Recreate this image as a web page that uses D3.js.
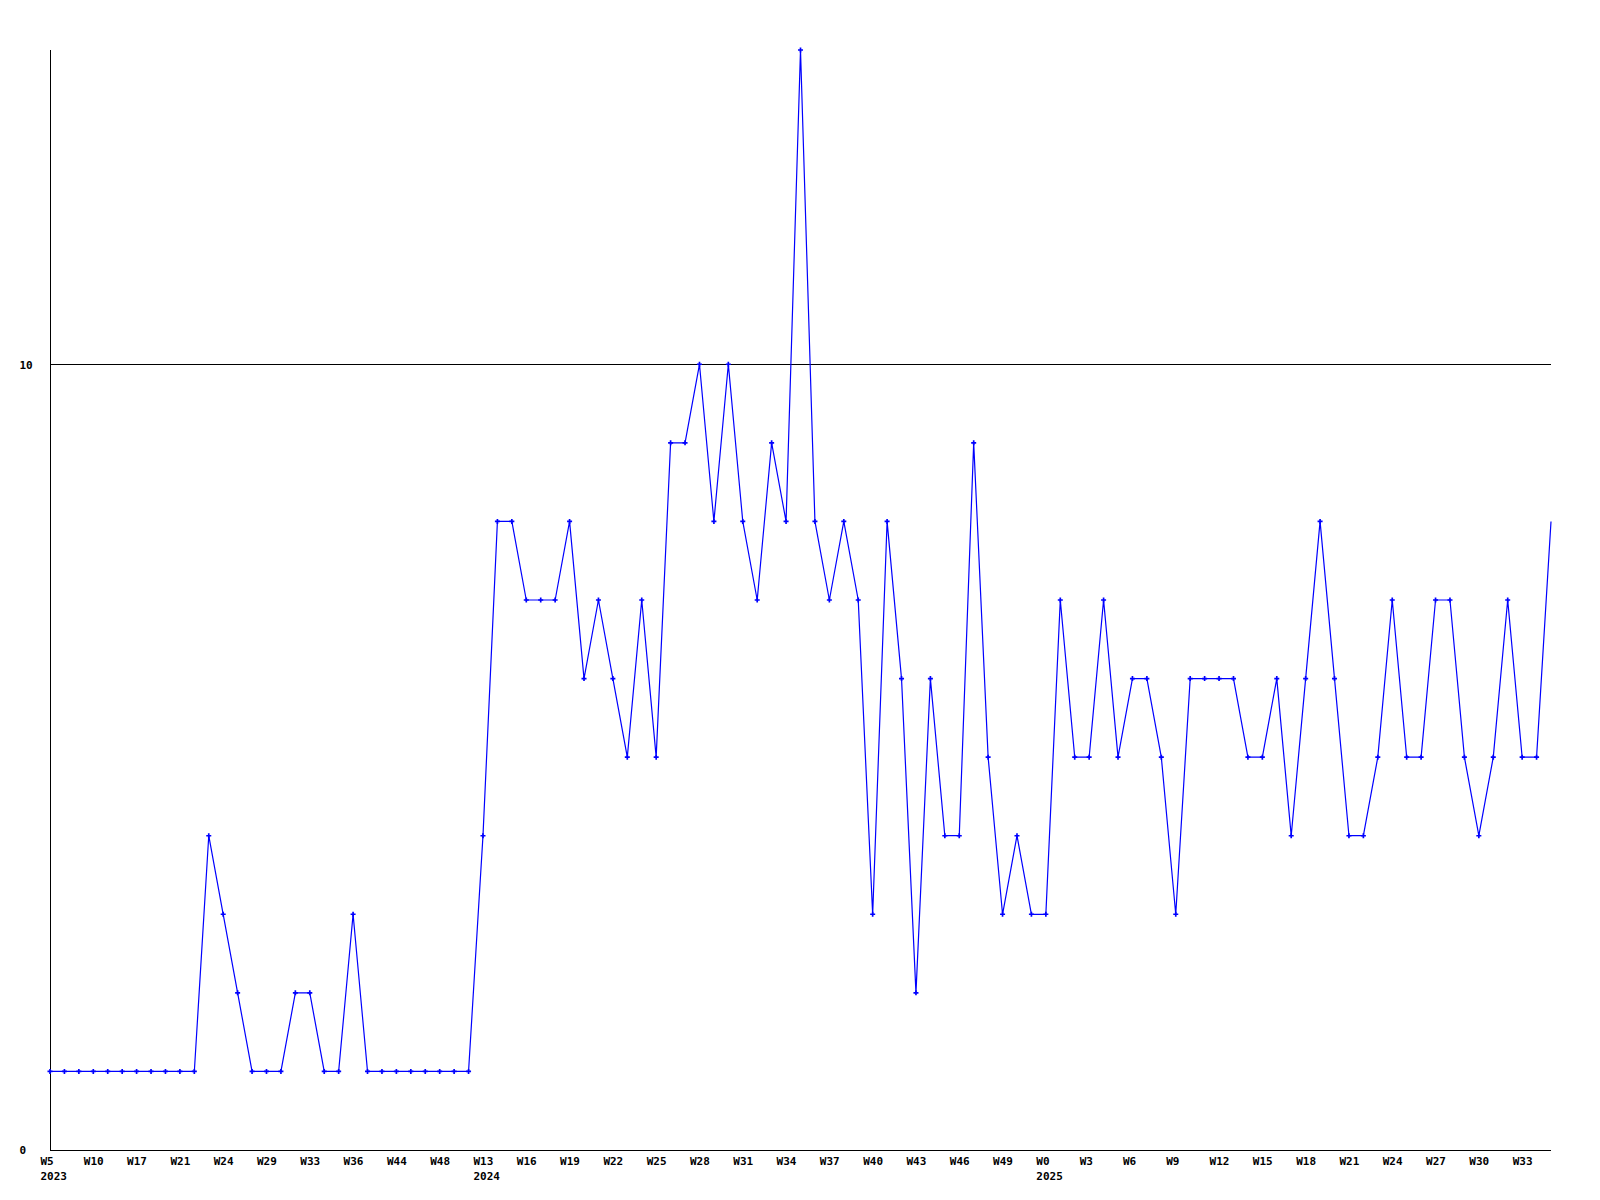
<!DOCTYPE html>
<html><head><meta charset="utf-8">
<script src="https://cdn.jsdelivr.net/npm/d3@7"></script>
<style>body{margin:0;background:#fff}svg{display:block}</style>
</head><body><svg id="c" width="1600" height="1200"></svg>
<script>
const weeks = ["W5","W6","W8","W10","W12","W15","W17","W18","W20","W21","W22","W23","W24","W26","W27","W29","W30","W31","W33","W34","W35","W36","W39","W42","W44","W45","W47","W48","W50","W52",
"W13","W14","W15","W16","W17","W18","W19","W20","W21","W22","W23","W24","W25","W26","W27","W28","W29","W30","W31","W32","W33","W34","W35","W36","W37","W38","W39","W40","W41","W42","W43","W44","W45","W46","W47","W48","W49","W50","W51",
"W0","W1","W2","W3","W4","W5","W6","W7","W8","W9","W10","W11","W12","W13","W14","W15","W16","W17","W18","W19","W20","W21","W22","W23","W24","W25","W26","W27","W28","W29","W30","W31","W32","W33","W34","W35"];
const years = [2023,2023,2023,2023,2023,2023,2023,2023,2023,2023,2023,2023,2023,2023,2023,2023,2023,2023,2023,2023,2023,2023,2023,2023,2023,2023,2023,2023,2023,2023,
2024,2024,2024,2024,2024,2024,2024,2024,2024,2024,2024,2024,2024,2024,2024,2024,2024,2024,2024,2024,2024,2024,2024,2024,2024,2024,2024,2024,2024,2024,2024,2024,2024,2024,2024,2024,2024,2024,2024,
2025,2025,2025,2025,2025,2025,2025,2025,2025,2025,2025,2025,2025,2025,2025,2025,2025,2025,2025,2025,2025,2025,2025,2025,2025,2025,2025,2025,2025,2025,2025,2025,2025,2025,2025,2025];
const values = [1,1,1,1,1,1,1,1,1,1,1,4,3,2,1,1,1,2,2,1,1,3,1,1,1,1,1,1,1,1,
4,8,8,7,7,7,8,6,7,6,5,7,5,9,9,10,8,10,8,7,9,8,14,8,7,8,7,3,8,6,2,6,4,4,9,5,3,4,3,
3,7,5,5,7,5,6,6,5,3,6,6,6,6,5,5,6,4,6,8,6,4,4,5,7,5,5,7,7,5,4,5,7,5,5,8];
const yTicks = [0,10];

const svg = d3.select("#c");
const x = d3.scalePoint().domain(d3.range(values.length)).range([50,1551]);
const y = d3.scaleLinear().domain([0,14]).range([1150,50]);
const font = "'DejaVu Sans Mono', monospace";

// gridline at 10
svg.append("g").selectAll("line").data(yTicks.filter(d=>d>0)).join("line")
  .attr("x1",50).attr("x2",1551).attr("y1",d=>y(d)+0.5).attr("y2",d=>y(d)+0.5)
  .attr("stroke","#000").attr("shape-rendering","crispEdges");

// y axis
const ya = svg.append("g").attr("transform","translate(50.5,0)")
  .call(d3.axisLeft(y).tickValues(yTicks).tickSize(0).tickFormat(d3.format("d")));
ya.select(".domain").attr("d",`M0,${y(14)}V${y(0)}`).attr("stroke","#000").attr("shape-rendering","crispEdges");
ya.selectAll("text").attr("x",-31).attr("text-anchor","start").attr("dy","0.35em")
  .style("font-family",font).style("font-size","11px").style("font-weight","bold").attr("fill","#000");

// x axis
const xa = svg.append("g").attr("transform",`translate(0,${y(0)+0.5})`)
  .call(d3.axisBottom(x).tickValues(d3.range(0,values.length,3)).tickSize(0).tickFormat(i=>weeks[i]));
xa.select(".domain").attr("d",`M50,0H1551`).attr("stroke","#000").attr("shape-rendering","crispEdges");
xa.selectAll(".tick text").attr("x",-10).attr("y",11).attr("dy","0.35em").attr("text-anchor","start")
  .style("font-family",font).style("font-size","11px").style("font-weight","bold").attr("fill","#000");
xa.selectAll(".tick").filter(i=>i===0||years[i]!==years[i-1]).append("text")
  .attr("x",-10).attr("y",26).attr("dy","0.35em").attr("text-anchor","start")
  .style("font-family",font).style("font-size","11px").style("font-weight","bold").attr("fill","#000")
  .text(i=>years[i]);

// line
svg.append("path").datum(values)
  .attr("d",d3.line().x((d,i)=>x(i)).y(d=>y(d)))
  .attr("fill","none").attr("stroke","#0000ff").attr("stroke-width",1.2);

// markers
svg.append("g").selectAll("path").data(values.slice(0,-1)).join("path")
  .attr("transform",(d,i)=>`translate(${x(i)},${y(d)})`)
  .attr("d",d3.symbol().type(d3.symbolCross).size(14))
  .attr("fill","#0000ff");
</script></body></html>
